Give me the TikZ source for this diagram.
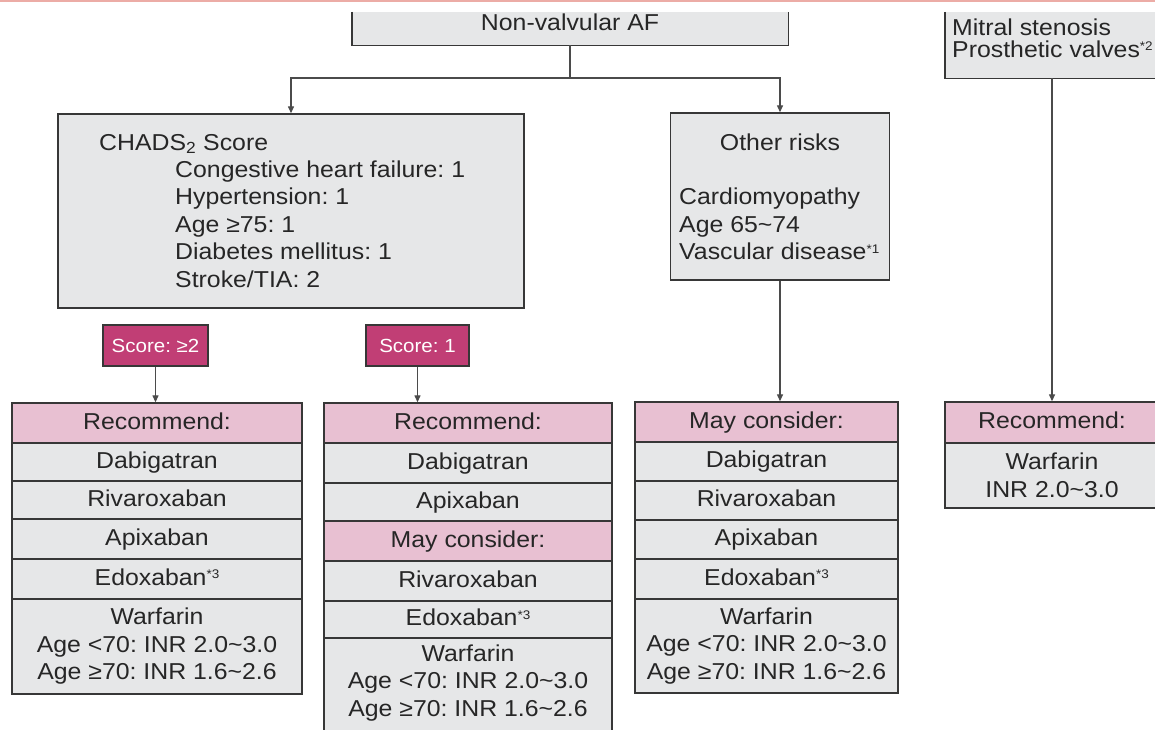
\documentclass[tikz,border=0pt]{standalone}
\usepackage{fontspec}
\setmainfont{Liberation Sans}[FakeStretch=1.08]
\usetikzlibrary{arrows.meta}
\definecolor{boxgray}{RGB}{230,231,232}
\definecolor{pinkh}{RGB}{232,192,210}
\definecolor{magbox}{RGB}{193,62,117}
\definecolor{bdr}{RGB}{55,55,55}
\definecolor{lineC}{RGB}{75,75,75}
\definecolor{topline}{RGB}{236,172,166}
\newcommand{\tld}{\textasciitilde}
\newcommand{\fnsup}[1]{\raisebox{6.5pt}{\fontsize{12.5}{12.5}\selectfont #1}}
\frenchspacing
\begin{document}
\begin{tikzpicture}[x=1pt,y=-1pt,
  mfs/.style={font=\fontsize{23}{27.5}\selectfont\frenchspacing},
  txt/.style={mfs, inner sep=0pt, text=black!85},
  fillonly/.style={fill=boxgray, draw=none, inner sep=0pt},
  bd/.style={draw=bdr, line width=1.4pt},
  cellbase/.style={draw=bdr, line width=1.4pt, fill=boxgray, inner sep=0pt, mfs, text=black!85, align=center},
  cellg/.style={cellbase, text height=17pt, text depth=5pt},
  cellp/.style={cellg, fill=pinkh},
  scorebox/.style={draw=bdr, line width=1.4pt, fill=magbox, text=white, inner sep=0pt,
    font=\fontsize{19}{22}\selectfont\frenchspacing, minimum height=41pt},
  ln/.style={draw=lineC, line width=1.3pt},
  conn/.style={ln, -{Triangle[length=7pt,width=6pt]}}]
\useasboundingbox (0,0) rectangle (1155,729);
\clip (0,0) rectangle (1155,729);
\fill[white] (0,0) rectangle (1155,729);
\draw[topline, line width=2pt] (0,1) -- (1155,1);

% Non-valvular AF
\node[fillonly, minimum width=436pt, minimum height=33pt] (af) at (570,28.5) {};
\draw[bd] (af.north west) -- (af.south west) -- (af.south east) -- (af.north east);
\node[txt, anchor=base] (aft) at (570,30.5) {Non-valvular AF};

% Mitral stenosis box
\node[fillonly, minimum width=214pt, minimum height=66pt] (ms) at (1052,45) {};
\draw[bd] (ms.north west) -- (ms.south west) -- (ms.south east);
\node[txt, anchor=base west] (ms1) at (952,35) {Mitral stenosis};
\node[txt, anchor=base west] (ms2) at (952,57) {Prosthetic valves\fnsup{*2}};

% CHADS2 box
\node[cellbase, minimum width=466pt, minimum height=194pt] (chads) at (291,211) {};
\node[txt, anchor=base west] (ch0) at (99,150) {CHADS\textsubscript{2} Score};
\node[txt, anchor=base west] (ch1) at (175,177) {Congestive heart failure: 1};
\node[txt, anchor=base west] (ch2) at (175,204.5) {Hypertension: 1};
\node[txt, anchor=base west] (ch3) at (175,232) {Age ≥75: 1};
\node[txt, anchor=base west] (ch4) at (175,259.5) {Diabetes mellitus: 1};
\node[txt, anchor=base west] (ch5) at (175,287) {Stroke/TIA: 2};

% Other risks box
\node[cellbase, minimum width=219pt, minimum height=167pt] (oth) at (780,196.5) {};
\node[txt, anchor=base] (oth0) at (780,150) {Other risks};
\node[txt, anchor=base west] (oth1) at (679,204) {Cardiomyopathy};
\node[txt, anchor=base west] (oth2) at (679,232) {Age 65\tld 74};
\node[txt, anchor=base west] (oth3) at (679,259.5) {Vascular disease\fnsup{*1}};

% top connectors
\coordinate (j) at (570,78);
\draw[ln] (af.south) -- (j);
\draw[conn] (j) -| (chads.north);
\draw[conn] (j) -| (oth.north);

% score boxes
\node[scorebox, minimum width=105pt] (s2) at (155.5,345.5) {Score: ≥2};
\node[scorebox, minimum width=103pt] (s1) at (417.5,345.5) {Score: 1};

% Column 1
\node[cellp, minimum width=290pt, minimum height=40pt] (c1h) at (157,423) {Recommend:};
\node[cellg, minimum width=290pt, minimum height=38pt] (c1a) at (157,462) {Dabigatran};
\node[cellg, minimum width=290pt, minimum height=38pt] (c1b) at (157,500) {Rivaroxaban};
\node[cellg, minimum width=290pt, minimum height=40pt] (c1c) at (157,539) {Apixaban};
\node[cellg, minimum width=290pt, minimum height=40pt] (c1d) at (157,579) {Edoxaban\fnsup{*3}};
\node[cellbase, minimum width=290pt, minimum height=95pt] (c1e) at (157,646.5)
  {Warfarin\\Age <70: INR 2.0\tld 3.0\\Age ≥70: INR 1.6\tld 2.6};

% Column 2
\node[cellp, minimum width=288pt, minimum height=40pt] (c2h) at (468,423) {Recommend:};
\node[cellg, minimum width=288pt, minimum height=40pt] (c2a) at (468,463) {Dabigatran};
\node[cellg, minimum width=288pt, minimum height=38pt] (c2b) at (468,502) {Apixaban};
\node[cellp, minimum width=288pt, minimum height=40pt] (c2c) at (468,541) {May consider:};
\node[cellg, minimum width=288pt, minimum height=40pt] (c2d) at (468,581) {Rivaroxaban};
\node[cellg, minimum width=288pt, minimum height=37pt] (c2e) at (468,619.5) {Edoxaban\fnsup{*3}};
\node[cellbase, minimum width=288pt, minimum height=102pt] (c2f) at (468,689) {};
\node[txt, align=center] (c2ft) at (468,683)
  {Warfarin\\Age <70: INR 2.0\tld 3.0\\Age ≥70: INR 1.6\tld 2.6};

% Column 3
\node[cellp, minimum width=263pt, minimum height=40pt] (c3h) at (766.5,422) {May consider:};
\node[cellg, minimum width=263pt, minimum height=39pt] (c3a) at (766.5,461.5) {Dabigatran};
\node[cellg, minimum width=263pt, minimum height=39pt] (c3b) at (766.5,500.5) {Rivaroxaban};
\node[cellg, minimum width=263pt, minimum height=39pt] (c3c) at (766.5,539.5) {Apixaban};
\node[cellg, minimum width=263pt, minimum height=40pt] (c3d) at (766.5,579) {Edoxaban\fnsup{*3}};
\node[cellbase, minimum width=263pt, minimum height=94pt] (c3e) at (766.5,646)
  {Warfarin\\Age <70: INR 2.0\tld 3.0\\Age ≥70: INR 1.6\tld 2.6};

% Column 4
\node[cellp, minimum width=214pt, minimum height=41pt] (c4h) at (1052,422.5) {Recommend:};
\node[cellbase, minimum width=214pt, minimum height=65pt] (c4a) at (1052,475.5)
  {Warfarin\\INR 2.0\tld 3.0};

% lower connectors
\draw[conn] (s2.south) -- (s2.south |- c1h.north);
\draw[conn] (s1.south) -- (s1.south |- c2h.north);
\draw[conn] (oth.south) -- (oth.south |- c3h.north);
\draw[conn] (ms.south) -- (c4h.north);
\end{tikzpicture}
\end{document}
